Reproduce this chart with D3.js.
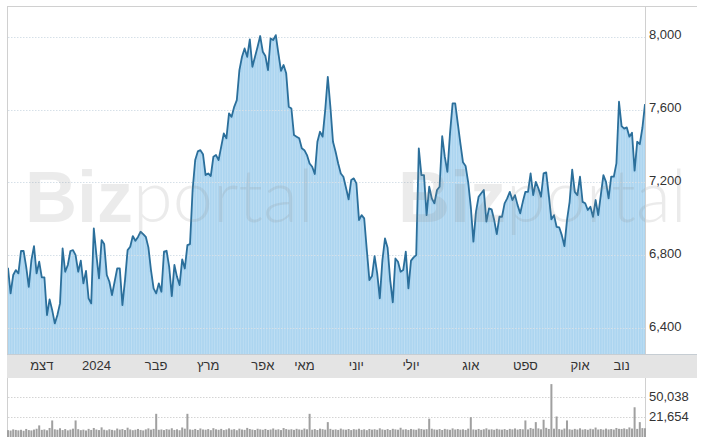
<!DOCTYPE html>
<html><head><meta charset="utf-8">
<script src="https://cdn.jsdelivr.net/npm/d3@7/dist/d3.min.js"></script>
<style>body{margin:0;background:#fff} svg{display:block}</style>
</head><body><svg id="c" width="707" height="439"></svg>
<script>
const prices = [6731,6590,6691,6718,6700,6823,6823,6736,6626,6773,6850,6700,6764,6678,6678,6471,6557,6498,6425,6471,
6535,6837,6709,6746,6823,6828,6800,6709,6770,6645,6714,6563,6535,6947,6800,6672,6883,6861,6691,6654,
6581,6654,6727,6727,6526,6663,6828,6846,6905,6879,6900,6929,6916,6901,6843,6718,6618,6590,6645,6599,
6819,6824,6736,6575,6746,6681,6636,6777,6727,6855,6861,7158,7323,7370,7377,7355,7240,7249,7235,7341,
7350,7323,7396,7469,7442,7579,7560,7615,7652,7817,7890,7936,7890,7986,7835,7890,7945,8004,7918,7894,
7817,7991,7982,8009,7909,7813,7845,7799,7615,7606,7460,7451,7442,7387,7377,7350,7304,7286,7246,7423,
7478,7451,7597,7780,7615,7423,7368,7304,7249,7231,7170,7107,7213,7222,7194,6993,7020,7002,6830,6663,
6685,6795,6700,6563,6773,6892,6841,6663,6541,6782,6764,6709,6718,6819,6618,6770,6788,6800,7387,7240,
7240,7020,7176,7112,7085,7158,7176,7454,7341,7258,7469,7634,7634,7524,7414,7310,7290,7200,7066,6874,
7039,7121,7140,7158,6984,7057,7052,6993,6916,7011,7011,7085,7112,7148,7103,7130,7075,7030,7093,7148,
7148,7249,7130,7203,7167,7121,7249,7255,7130,6997,7020,6956,6953,6910,6850,6993,7093,7270,7148,7130,
7231,7093,7085,7048,7066,7011,7103,7020,7130,7240,7203,7112,7231,7231,7304,7643,7509,7495,7502,7451,
7473,7264,7423,7410,7500,7630];
const volumes = [2100,1500,3200,2400,1800,2600,1200,3800,2200,1700,
2900,4100,8900,2500,3100,1900,5200,16000,3300,2700,
4800,2200,3600,1800,2900,4200,16000,3500,2100,2800,
1600,3900,2400,5200,3000,2200,6100,2700,1900,3300,
2500,1800,4400,2900,3600,2300,5600,3100,2000,2700,
3800,2400,1700,3200,4600,2800,3900,25500,2600,3100,
2200,3500,2900,4800,2400,3300,2000,5900,4200,25500,
3100,2600,3800,2300,4500,3000,2700,3600,2100,4900,
3300,2600,3900,2200,3100,4600,2800,3500,2000,4200,
3000,2500,5300,3700,2900,2300,4100,3200,2600,3800,
2400,3000,4500,2700,3300,2200,5100,3600,2800,3400,
2500,4000,3100,2600,4400,3300,25500,2700,3600,2300,
4200,3500,2800,13600,3900,2600,3200,2400,4300,3000,
2700,3700,2200,3500,2900,4100,2500,3300,2100,3800,
2800,3400,2600,4700,3100,2500,3600,2300,4000,3200,
2700,5500,2900,3400,2400,3800,3000,2600,4400,3700,
2900,3500,18500,4100,3100,2700,3600,2300,3900,3200,
2600,4600,3000,3700,2800,3300,2400,4200,20700,3100,
2700,3800,2500,3400,4700,2900,3300,2600,4000,3100,
2800,3600,2400,3900,3200,4500,2900,3700,3300,16000,
3100,5200,4100,13600,4600,3300,17000,5400,3800,68100,
4200,21700,3600,2800,4400,16000,3300,2700,3900,3000,
4700,2900,3500,2600,4100,3300,5800,3000,3600,2800,
4300,3100,3700,2900,5200,4000,3800,4600,3500,6000,
4400,34900,3900,13600,5000,4800];
const monthLabels = ["דצמ","2024","פבר","מרץ","אפר","מאי","יוני","יולי","אוג","ספט","אוק","נוב"];
const monthIndex = [13,34,57,77,98,114,134,155,178,199,220,236];
const priceTicks = [6400,6800,7200,7600,8000];
const volumeTicks = [21654,50038];
const watermarkBold = "Biz";
const watermarkLight = "portal";

const svg = d3.select("#c");
const L = 8, R = 645, T = 8, B = 354;
const bandTop = 354, bandBot = 378, volBot = 437;
const N = prices.length;
const x = d3.scaleLinear().domain([0, N - 1]).range([L, R]);
const y = d3.scaleLinear().domain([6257, 8158]).range([B, T]);
const yv = d3.scaleLinear().domain([21654, 50038]).range([416.5, 396.7]);
const step = (R - L) / (N - 1);
const font = "'Liberation Sans', Arial, sans-serif";

// area
const area = d3.area().x((d, i) => x(i)).y0(B).y1(d => y(d));
svg.append("path").datum(prices).attr("d", area).attr("fill", "#acd5f0");
// stripes
svg.append("g").selectAll("line").data(prices).join("line")
  .attr("x1", (d, i) => x(i) + step / 2).attr("x2", (d, i) => x(i) + step / 2)
  .attr("y1", (d, i) => y(Math.min(d, prices[Math.min(i + 1, N - 1)])) + 2).attr("y2", B)
  .attr("stroke", "#ffffff").attr("stroke-opacity", 0.28).attr("stroke-width", 0.8);

// gridlines price
svg.append("g").selectAll("line").data(priceTicks).join("line")
  .attr("x1", L).attr("x2", R)
  .attr("y1", d => Math.round(y(d)) + 0.5).attr("y2", d => Math.round(y(d)) + 0.5)
  .attr("stroke", "#d6e0e8").attr("stroke-dasharray", "1.5,1.5");

// line
svg.append("path").datum(prices)
  .attr("d", d3.line().x((d, i) => x(i)).y(d => y(d)))
  .attr("fill", "none").attr("stroke", "#2b6f9b").attr("stroke-width", 1.8)
  .attr("stroke-linejoin", "round");

// watermarks
[25, 398].forEach(x0 => {
  const t = svg.append("text").attr("x", x0).attr("y", 222)
    .attr("font-family", font).attr("font-size", 72).attr("fill", "#8a8a8a").attr("fill-opacity", 0.17);
  t.append("tspan").attr("font-weight", "bold").text(watermarkBold);
  t.append("tspan").attr("font-weight", 300).attr("font-family", "Lato, 'Open Sans', Roboto, sans-serif").text(watermarkLight);
});

// borders
svg.append("line").attr("x1", 7).attr("x2", 697).attr("y1", 6.5).attr("y2", 6.5).attr("stroke", "#d0d0d0");
svg.append("line").attr("x1", 7.5).attr("x2", 7.5).attr("y1", 6).attr("y2", volBot).attr("stroke", "#d0d0d0");
svg.append("line").attr("x1", 645.5).attr("x2", 645.5).attr("y1", 7).attr("y2", volBot).attr("stroke", "#d0d0d0");

// band
svg.append("rect").attr("x", 7).attr("y", bandTop).attr("width", 690).attr("height", bandBot - bandTop).attr("fill", "#e4e4e4");
svg.append("line").attr("x1", 7).attr("x2", 697).attr("y1", bandTop + 0.5).attr("y2", bandTop + 0.5).attr("stroke", "#c6cdd3");
svg.append("g").selectAll("text").data(monthLabels).join("text")
  .attr("x", (d, i) => x(monthIndex[i])).attr("y", 370)
  .attr("text-anchor", "middle").attr("font-family", font).attr("font-size", 13)
  .attr("fill", "#333").text(d => d);

// price labels
svg.append("g").selectAll("text").data(priceTicks).join("text")
  .attr("x", 649).attr("y", d => y(d) + 2.6)
  .attr("font-family", font).attr("font-size", 13).attr("fill", "#333")
  .text(d => d3.format(",")(d));

// volume gridlines
svg.append("g").selectAll("line").data(volumeTicks).join("line")
  .attr("x1", L).attr("x2", R)
  .attr("y1", d => Math.round(yv(d)) + 0.5).attr("y2", d => Math.round(yv(d)) + 0.5)
  .attr("stroke", "#d4d4d4").attr("stroke-dasharray", "1.5,1.5");
// volume bars
svg.append("g").selectAll("rect").data(volumes).join("rect")
  .attr("x", (d, i) => x(i) - 1).attr("width", 2)
  .attr("y", d => yv(d)).attr("height", d => volBot - yv(d))
  .attr("fill", "#a0a0a0");
svg.append("g").selectAll("text").data(volumeTicks).join("text")
  .attr("x", 649).attr("y", d => yv(d) + 4.6)
  .attr("font-family", font).attr("font-size", 13).attr("fill", "#333")
  .text(d => d3.format(",")(d));
</script></body></html>
